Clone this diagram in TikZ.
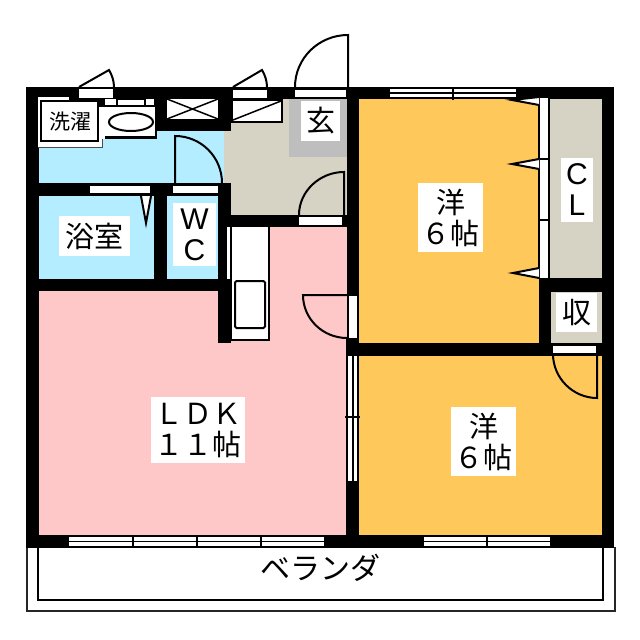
\documentclass[tikz,border=0pt]{standalone}
\usepackage{fontspec}
\newfontfamily\jp{Noto Sans CJK JP}
\newfontfamily\lat{Liberation Sans}
\definecolor{bathblue}{HTML}{B3EDFF}
\definecolor{floorbeige}{HTML}{D6D3C4}
\definecolor{entrygray}{HTML}{BEBEBE}
\definecolor{ldkpink}{HTML}{FFC8C8}
\definecolor{roomyellow}{HTML}{FFC85A}
\tikzset{
  wall/.style={fill=black,draw=none},
  gap/.style={fill=white,draw=none},
  thinline/.style={draw=black,line width=2pt},
  fineline/.style={draw=black,line width=1.5pt},
  label/.style={fill=white,inner sep=0pt,align=center,text=black},
  jpbig/.style={font=\jp\fontsize{29}{31}\selectfont},
}
\begin{document}
\begin{tikzpicture}[x=1pt,y=-1pt]
\useasboundingbox (0,0) rectangle (640,640);
\fill[white] (0,0) rectangle (640,640);
% floors
\fill[bathblue] (38,98) rectangle (225,184);
\fill[bathblue] (38,195) rectangle (219,280);
\fill[floorbeige] (224,98) rectangle (348,216);
\fill[entrygray] (289,98) rectangle (347,157);
\fill[ldkpink] (38,290) rectangle (348,536);
\fill[ldkpink] (230,226) rectangle (348,344);
\fill[roomyellow] (358,98) rectangle (540,344);
\fill[roomyellow] (358,355) rectangle (603,536);
\fill[floorbeige] (550,98) rectangle (603,279);
\fill[floorbeige] (550,291) rectangle (603,344);
% balcony
\draw[draw=black!85,line width=1.5pt] (27,547) -- (27,611) -- (615,611) -- (615,547);
\draw[thinline] (38,547) -- (38,600) -- (603,600) -- (603,547);
% walls
\fill[wall] (26,87) rectangle (614,99);
\fill[wall] (26,87) rectangle (39,548);
\fill[wall] (602,87) rectangle (614,548);
\fill[wall] (26,535) rectangle (614,548);
\fill[wall] (69,87) rectangle (157,100);
\fill[wall] (154,87) rectangle (231,131);
\fill[wall] (26,183) rectangle (231,196);
\fill[wall] (154,183) rectangle (167,291);
\fill[wall] (26,279) rectangle (231,291);
\fill[wall] (218,183) rectangle (231,227);
\fill[wall] (218,227) rectangle (227,279);
\fill[wall] (218,279) rectangle (231,343);
\fill[wall] (218,215) rectangle (347,227);
\fill[wall] (347,87) rectangle (359,548);
\fill[wall] (346,338) rectangle (359,548);
\fill[wall] (346,343) rectangle (614,356);
\fill[wall] (539,278) rectangle (551,356);
\fill[wall] (539,278) rectangle (614,292);
% washer
\fill[white] (38,97) rectangle (102,147);
\draw[draw=black!70,line width=1pt] (38,147) -- (102,147) -- (102,100);
\fill[wall] (69,87) rectangle (105,100);
\draw[thinline] (41,101) rectangle (98,141);
\node[fill=none,inner sep=0pt,font=\jp\fontsize{21}{23}\selectfont] (wash) at (70,122) {洗濯};
% basin
\fill[wall] (103,99) rectangle (157,139);
\fill[white] (105,107) rectangle (155,136);
\fill[white] (105,99) rectangle (116,105);
\fill[white] (118,100) rectangle (144,105);
\fill[white] (146,99) rectangle (154,105);
\fill[wall] (99,100) rectangle (105,107);
\fill[white] (102,107) rectangle (105,139);
\draw[thinline,fill=white] (131,122) ellipse [x radius=22,y radius=9];
% x closet
\fill[gap] (167,99) rectangle (218,119);
\draw[fineline] (167,119) -- (218,99) (167,99) -- (218,119);
% hall closet door box
\fill[wall] (231,99) rectangle (283,123);
\fill[gap] (233,101) rectangle (281,121);
\draw[fineline] (233,120) -- (281,101);
% gaps in walls
\fill[gap] (79,89) rectangle (113,98);
\fill[gap] (233,90) rectangle (267,98);
\fill[gap] (295,90) rectangle (346,97);
\fill[gap] (299,217) rectangle (342,225);
\fill[gap] (90,186) rectangle (150,193);
\fill[gap] (173,186) rectangle (218,193);
\fill[gap] (349,296) rectangle (357,338);
\fill[gap] (553,346) rectangle (596,353);
% casement leaves
\draw[thinline] (79,87) -- (109,70) .. controls (112,75) and (114,81) .. (114,87);
\draw[thinline] (233,87) -- (262,70) .. controls (265,75) and (267,81) .. (267,87);
% swing doors
\draw[thinline] (348,87) -- (348,35) .. controls (319,35) and (295,58) .. (295,87);
\draw[thinline] (175,183) -- (175,136) .. controls (201,136) and (222,157) .. (222,183);
\draw[thinline] (344,215) -- (344,172) .. controls (320,172) and (299,191) .. (299,215);
\draw[thinline] (347,295) -- (303,295) .. controls (303,319) and (323,338) .. (347,338);
\draw[thinline] (597,354) -- (597,398) .. controls (573,398) and (553,378) .. (553,354);
% bath door wedge
\draw[thinline,fill=white] (141,196) -- (146,223) -- (151,196);
% kitchen
\fill[white] (227,227) rectangle (269,340);
\fill[wall] (218,279) rectangle (231,343);
\draw[thinline] (231,227) -- (231,340);
\draw[thinline] (269,226) -- (269,340) -- (230,340);
\draw[thinline,rounded corners=1.5pt] (235,281) rectangle (265,328);
% closet folding doors
\fill[gap] (540,98) rectangle (548,278);
\draw[thinline] (539,98) -- (539,278);
\draw[thinline] (549,98) -- (549,278);
\draw[thinline] (539,159) -- (549,159);
\draw[thinline] (539,220) -- (549,220);
\draw[thinline,fill=white] (539,97) -- (512,100) -- (539,105);
\draw[thinline,fill=white] (539,159) -- (512,164) -- (539,169);
\draw[thinline,fill=white] (539,268) -- (513,273) -- (539,278);
% windows
\fill[gap] (390,89) rectangle (516,97);
\draw[fineline] (390,93) -- (516,93);
\draw[thinline] (453,87) -- (453,100);
\fill[gap] (69,537) rectangle (324,546);
\draw[fineline] (69,541.5) -- (324,541.5);
\draw[thinline] (133,535) -- (133,548);
\draw[thinline] (197,535) -- (197,548);
\draw[thinline] (261,535) -- (261,548);
\fill[gap] (424,537) rectangle (550,546);
\draw[fineline] (424,541.5) -- (550,541.5);
\draw[thinline] (487,535) -- (487,548);
\fill[gap] (348,356) rectangle (357,481);
\draw[fineline] (353,356) -- (353,481);
\draw[thinline] (345,417) -- (360,417);
% labels
\node[label,jpbig,minimum width=39pt,minimum height=40pt] (genkan) at (320.5,121) {玄};
\node[label,jpbig,minimum width=71pt,minimum height=40pt] (bath) at (94.5,236) {浴室};
\node[label,font=\lat\fontsize{30}{30}\selectfont,minimum width=43pt,minimum height=63pt] (wc) at (194.5,234.5) {W\\[1pt]C};
\node[label,font=\lat\fontsize{30}{30}\selectfont,minimum width=32pt,minimum height=64pt] (cl) at (577,190) {C\\[1pt]L};
\node[label,jpbig,minimum width=41pt,minimum height=39pt] (shu) at (576.5,312.5) {収};
\node[label,jpbig,minimum width=65pt,minimum height=69pt] (room1) at (450.5,217.5) {洋\\６帖};
\node[label,jpbig,minimum width=65pt,minimum height=69pt] (room2) at (483.5,441.5) {洋\\６帖};
\node[label,jpbig,minimum width=94pt,minimum height=66pt] (ldk) at (198,430) {ＬＤＫ\\１１帖};
\node[inner sep=0pt,font=\jp\fontsize{30}{32}\selectfont] (veranda) at (320,568) {ベランダ};
\end{tikzpicture}
\end{document}
